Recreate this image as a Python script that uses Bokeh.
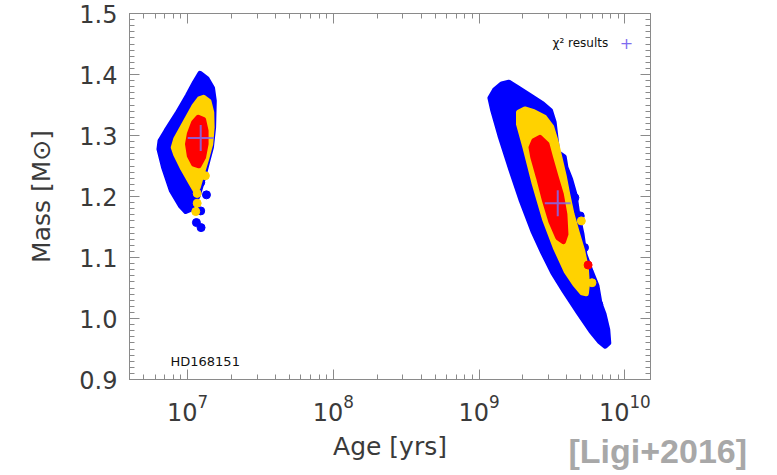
from bokeh.plotting import figure
from bokeh.models import (LinearAxis, LogAxis, Label, Title, SingleIntervalTicker, LogTicker,
                          NumeralTickFormatter, Range1d)
from bokeh.embed import file_html
from bokeh.resources import INLINE

# ---------------- data ----------------
# young solution (~1e7 yr)
young_blue_age = [1.218e7, 1.363e7, 1.484e7, 1.527e7, 1.510e7, 1.459e7, 1.379e7, 1.289e7, 1.184e7,
                  1.058e7, 9.72e6, 8.93e6, 7.76e6, 6.85e6, 6.37e6, 6.48e6, 7.13e6, 8.44e6, 1.0e7, 1.119e7]
young_blue_mass = [1.402, 1.393, 1.378, 1.357, 1.313, 1.2805, 1.2586, 1.2312, 1.2011,
                   1.1792, 1.1753, 1.1847, 1.2093, 1.2477, 1.2778, 1.2915, 1.3079, 1.3353, 1.3655, 1.3874]
young_yellow_age = [1.289e7, 1.403e7, 1.467e7, 1.476e7, 1.443e7, 1.363e7, 1.268e7, 1.184e7, 1.139e7,
                    1.058e7, 9.29e6, 8.30e6, 7.98e6, 8.30e6, 9.61e6, 1.101e7, 1.204e7]
young_yellow_mass = [1.3627, 1.3562, 1.3381, 1.3134, 1.286, 1.2641, 1.2395, 1.2148, 1.2082,
                     1.2214, 1.2449, 1.2685, 1.2805, 1.2942, 1.3216, 1.3474, 1.36]
young_red_age = [1.184e7, 1.289e7, 1.341e7, 1.341e7, 1.289e7, 1.198e7, 1.101e7, 1.029e7, 1.0e7,
                 1.029e7, 1.101e7]
young_red_mass = [1.3299, 1.326, 1.3079, 1.286, 1.2641, 1.2504, 1.2532, 1.2668, 1.286, 1.3025, 1.3216]

# old solution (~1e9-1e10 yr)
old_blue_age = [1.187e9, 1.277e9, 1.430e9, 1.601e9, 1.792e9, 2.183e9, 2.735e9, 3.095e9, 3.275e9,
                3.388e9, 3.466e9, 3.837e9, 3.946e9, 4.246e9, 4.544e9, 4.753e9, 5.087e9, 5.321e9,
                5.857e9, 6.446e9, 6.743e9, 7.216e9, 7.634e9, 7.763e9, 7.34e9, 6.667e9, 5.857e9,
                4.808e9, 3.837e9, 3.202e9, 2.735e9, 2.336e9, 1.950e9, 1.647e9, 1.390e9, 1.242e9]
old_blue_mass = [1.3616, 1.3748, 1.3847, 1.3874, 1.3803, 1.3671, 1.3518, 1.3408, 1.3216,
                 1.2915, 1.2723, 1.2652, 1.2477, 1.2285, 1.2038, 1.171, 1.1381, 1.1052,
                 1.0778, 1.0532, 1.0258, 1.0066, 0.9819, 0.96, 0.9545, 0.9627, 0.9792,
                 1.0093, 1.0449, 1.0751, 1.108, 1.1436, 1.1929, 1.2449, 1.2997, 1.3408]
old_yellow_age = [1.864e9, 2.063e9, 2.375e9, 2.813e9, 3.148e9, 3.369e9, 3.584e9, 3.837e9, 4.059e9,
                  4.344e9, 4.753e9, 5.145e9, 5.443e9, 5.536e9, 5.443e9, 5.087e9, 4.544e9, 3.946e9,
                  3.332e9, 2.813e9, 2.375e9, 2.063e9, 1.864e9]
old_yellow_mass = [1.3381, 1.3436, 1.3392, 1.3299, 1.3145, 1.2915, 1.2641, 1.234, 1.2038,
                   1.171, 1.1381, 1.1107, 1.0833, 1.0559, 1.0405, 1.0422, 1.0559, 1.0778,
                   1.1162, 1.1627, 1.223, 1.2805, 1.3189]
old_red_age = [2.375e9, 2.615e9, 2.926e9, 3.095e9, 3.388e9, 3.667e9, 3.880e9, 3.946e9, 3.793e9,
               3.466e9, 3.095e9, 2.813e9, 2.556e9, 2.336e9, 2.271e9]
old_red_mass = [1.2915, 1.297, 1.286, 1.2641, 1.2312, 1.2038, 1.171, 1.1381, 1.126,
                1.1326, 1.16, 1.1929, 1.2312, 1.2641, 1.2805]

# isolated points
stray_blue_age = [1.232e7, 1.349e7, 1.232e7, 1.151e7, 1.239e7, 4.544e9, 4.945e9, 5.291e9, 6.092e9, 6.629e9]
stray_blue_mass = [1.223, 1.2027, 1.1764, 1.1573, 1.149, 1.198, 1.1682, 1.1162, 1.045, 1.023]
stray_yellow_age = [1.326e7, 1.165e7, 1.165e7, 1.139e7, 5.03e9, 5.955e9]
stray_yellow_mass = [1.234, 1.205, 1.189, 1.1753, 1.16, 1.0586]
stray_red_age = [5.598e9]
stray_red_mass = [1.0877]

# chi^2 best solutions
chi2_age = [1.232e7, 3.466e9]
chi2_mass = [1.296, 1.189]

x_limits = [4.0e6, 1.5e10]
y_limits = [0.9, 1.5]

BLUE = "#0000ff"
YELLOW = "#ffd200"
RED = "#ff0000"
CROSS = "#7f6cf0"
AXC = "#8a8a8a"
TXT = "#3a3a3a"

p = figure(width=777, height=475, x_axis_type="log",
           x_range=Range1d(*x_limits), y_range=Range1d(*y_limits),
           output_backend="svg", toolbar_location=None,
           min_border_left=129, min_border_right=127, min_border_top=13, min_border_bottom=96)
p.grid.visible = False
p.outline_line_color = AXC
p.background_fill_color = "white"
p.border_fill_color = "white"

def style_axis(ax, show_labels):
    ax.axis_line_color = AXC
    ax.major_tick_line_color = AXC
    ax.minor_tick_line_color = AXC
    ax.major_tick_in = 10
    ax.major_tick_out = 0
    ax.minor_tick_in = 5
    ax.minor_tick_out = 0
    ax.major_label_text_font = "DejaVu Sans"
    ax.major_label_text_color = TXT
    if show_labels:
        ax.major_label_text_font_size = "24px"
    else:
        ax.major_label_text_font_size = "1px"
        ax.major_label_text_alpha = 0
        ax.major_label_standoff = 0

ytick = SingleIntervalTicker(interval=0.1, num_minor_ticks=10)
p.yaxis.ticker = ytick
p.yaxis.formatter = NumeralTickFormatter(format="0.0")
p.xaxis.ticker = LogTicker(num_minor_ticks=10)
style_axis(p.xaxis[0], True)
style_axis(p.yaxis[0], True)
p.xaxis.major_label_standoff = 14
p.yaxis.major_label_standoff = 12
p.yaxis.axis_label = "Mass [M\u2299]"
p.yaxis.axis_label_text_font = "DejaVu Sans"
p.yaxis.axis_label_text_font_size = "25px"
p.yaxis.axis_label_text_font_style = "normal"
p.yaxis.axis_label_text_color = TXT
p.yaxis.axis_label_standoff = 20

right = LinearAxis(ticker=SingleIntervalTicker(interval=0.1, num_minor_ticks=10))
style_axis(right, False)
p.add_layout(right, "right")
top = LogAxis(ticker=LogTicker(num_minor_ticks=10))
style_axis(top, False)
p.add_layout(top, "above")

# bottom texts: spacer, x-axis title and citation share one row
p.add_layout(Title(text=" ", text_font="DejaVu Sans", text_font_size="10px",
                   standoff=9), "below")
p.add_layout(Title(text="Age [yrs]", align="center", vertical_align="top",
                   text_font="DejaVu Sans", text_font_size="25px", text_font_style="normal",
                   text_color=TXT, standoff=-27), "below")
p.add_layout(Title(text="[Ligi+2016]", align="left", vertical_align="top", offset=439,
                   text_font="Liberation Sans", text_font_size="34px", text_font_style="bold",
                   text_color="#a8a8a8", standoff=-36), "below")

def cloud(ax, ay, color):
    p.patch(ax, ay, fill_color=color, line_color=color, line_width=5, line_join="round")

cloud(young_blue_age, young_blue_mass, BLUE)
cloud(old_blue_age, old_blue_mass, BLUE)
p.scatter(stray_blue_age, stray_blue_mass, size=8, color=BLUE)
cloud(young_yellow_age, young_yellow_mass, YELLOW)
cloud(old_yellow_age, old_yellow_mass, YELLOW)
p.scatter(stray_yellow_age, stray_yellow_mass, size=8, color=YELLOW)
cloud(young_red_age, young_red_mass, RED)
cloud(old_red_age, old_red_mass, RED)
p.scatter(stray_red_age, stray_red_mass, size=8, color=RED)
p.scatter(chi2_age, chi2_mass, marker="cross", size=26, line_width=2, color=CROSS, alpha=0.85)

# annotations inside the frame (screen units, relative to plot frame)
p.add_layout(Label(x=41, y=18, x_units="screen", y_units="screen", text="HD168151",
                   text_font="DejaVu Sans", text_font_size="13px", text_color="#111111",
                   text_baseline="middle"))
p.add_layout(Label(x=423, y=337, x_units="screen", y_units="screen", text="\u03c7\u00b2 results",
                   text_font="DejaVu Sans", text_font_size="12px", text_color="#111111",
                   text_baseline="middle"))
p.add_layout(Label(x=497, y=337, x_units="screen", y_units="screen", text="+",
                   text_font="DejaVu Sans", text_font_size="16px", text_color=CROSS,
                   text_baseline="middle", text_align="center"))

open("out.html", "w").write(file_html(p, INLINE))
